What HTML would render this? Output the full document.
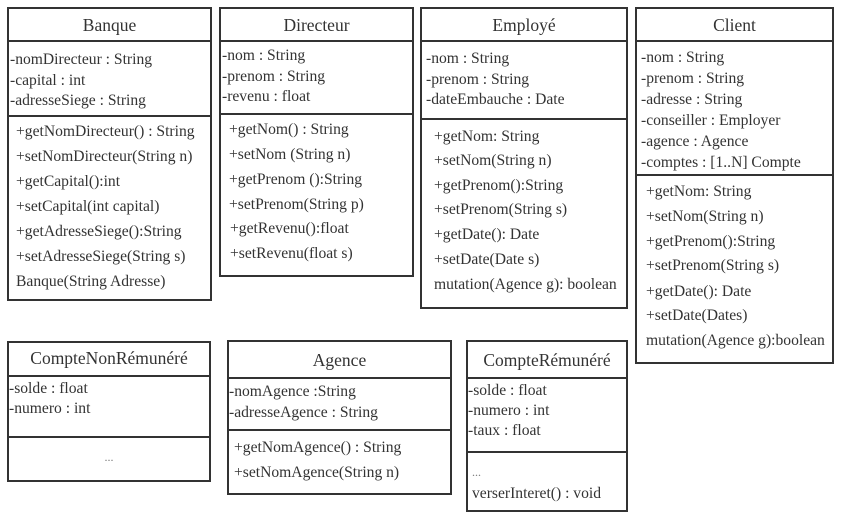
<!DOCTYPE html>
<html><head><meta charset="utf-8"><style>
body{margin:0;background:#fff;width:846px;height:522px;position:relative;overflow:hidden;font-family:"Liberation Serif",serif;color:#333}
.b{position:absolute;border:2px solid #333;box-sizing:border-box}
.l{position:absolute;height:2px;background:#333}
.t{position:absolute;font-size:15.6px;line-height:20px;white-space:nowrap}
.h{position:absolute;font-size:17.5px;line-height:22px;white-space:nowrap;text-align:center}
</style></head><body>

<!-- Banque -->
<div class="b" style="left:7px;top:7px;width:205px;height:294px"></div>
<div class="l" style="left:7px;top:40px;width:205px"></div>
<div class="l" style="left:7px;top:115px;width:205px"></div>
<div class="h" style="left:7px;top:14px;width:205px">Banque</div>
<div class="t" style="left:10px;top:50px">-nomDirecteur : String</div>
<div class="t" style="left:10px;top:71px">-capital : int</div>
<div class="t" style="left:10px;top:91px">-adresseSiege : String</div>
<div class="t" style="left:16px;top:122px">+getNomDirecteur() : String</div>
<div class="t" style="left:16px;top:147px">+setNomDirecteur(String n)</div>
<div class="t" style="left:16px;top:172px">+getCapital():int</div>
<div class="t" style="left:16px;top:197px">+setCapital(int capital)</div>
<div class="t" style="left:16px;top:222px">+getAdresseSiege():String</div>
<div class="t" style="left:16px;top:247px">+setAdresseSiege(String s)</div>
<div class="t" style="left:16px;top:272px">Banque(String Adresse)</div>

<!-- Directeur -->
<div class="b" style="left:219px;top:7px;width:195px;height:270px"></div>
<div class="l" style="left:219px;top:40px;width:195px"></div>
<div class="l" style="left:219px;top:113px;width:195px"></div>
<div class="h" style="left:219px;top:14px;width:195px">Directeur</div>
<div class="t" style="left:222px;top:46px">-nom : String</div>
<div class="t" style="left:222px;top:67px">-prenom : String</div>
<div class="t" style="left:222px;top:87px">-revenu : float</div>
<div class="t" style="left:229px;top:120px">+getNom() : String</div>
<div class="t" style="left:229px;top:145px">+setNom (String n)</div>
<div class="t" style="left:229px;top:170px">+getPrenom ():String</div>
<div class="t" style="left:229px;top:195px">+setPrenom(String p)</div>
<div class="t" style="left:230px;top:219px">+getRevenu():float</div>
<div class="t" style="left:230px;top:244px">+setRevenu(float s)</div>

<!-- Employé -->
<div class="b" style="left:420px;top:7px;width:208px;height:302px"></div>
<div class="l" style="left:420px;top:40px;width:208px"></div>
<div class="l" style="left:420px;top:118px;width:208px"></div>
<div class="h" style="left:420px;top:14px;width:208px">Employé</div>
<div class="t" style="left:426px;top:49px">-nom : String</div>
<div class="t" style="left:426px;top:70px">-prenom : String</div>
<div class="t" style="left:426px;top:90px">-dateEmbauche : Date</div>
<div class="t" style="left:434px;top:127px">+getNom: String</div>
<div class="t" style="left:434px;top:151px">+setNom(String n)</div>
<div class="t" style="left:434px;top:176px">+getPrenom():String</div>
<div class="t" style="left:434px;top:200px">+setPrenom(String s)</div>
<div class="t" style="left:434px;top:225px">+getDate(): Date</div>
<div class="t" style="left:434px;top:250px">+setDate(Date s)</div>
<div class="t" style="left:434px;top:275px">mutation(Agence g): boolean</div>

<!-- Client -->
<div class="b" style="left:635px;top:7px;width:199px;height:357px"></div>
<div class="l" style="left:635px;top:40px;width:199px"></div>
<div class="l" style="left:635px;top:174px;width:199px"></div>
<div class="h" style="left:635px;top:14px;width:199px">Client</div>
<div class="t" style="left:641px;top:48px">-nom : String</div>
<div class="t" style="left:641px;top:69px">-prenom : String</div>
<div class="t" style="left:641px;top:90px">-adresse : String</div>
<div class="t" style="left:641px;top:111px">-conseiller : Employer</div>
<div class="t" style="left:641px;top:132px">-agence : Agence</div>
<div class="t" style="left:641px;top:153px">-comptes : [1..N] Compte</div>
<div class="t" style="left:646px;top:182px">+getNom: String</div>
<div class="t" style="left:646px;top:207px">+setNom(String n)</div>
<div class="t" style="left:646px;top:232px">+getPrenom():String</div>
<div class="t" style="left:646px;top:256px">+setPrenom(String s)</div>
<div class="t" style="left:646px;top:282px">+getDate(): Date</div>
<div class="t" style="left:646px;top:306px">+setDate(Dates)</div>
<div class="t" style="left:646px;top:331px">mutation(Agence g):boolean</div>

<!-- CompteNonRémunéré -->
<div class="b" style="left:7px;top:341px;width:204px;height:141px"></div>
<div class="l" style="left:7px;top:375px;width:204px"></div>
<div class="l" style="left:7px;top:436px;width:204px"></div>
<div class="h" style="left:7px;top:347px;width:204px">CompteNonRémunéré</div>
<div class="t" style="left:9px;top:379px">-solde : float</div>
<div class="t" style="left:9px;top:399px">-numero : int</div>
<div class="t" style="left:7px;top:447px;width:204px;text-align:center;font-size:12px;color:#777">...</div>

<!-- Agence -->
<div class="b" style="left:227px;top:340px;width:225px;height:155px"></div>
<div class="l" style="left:227px;top:377px;width:225px"></div>
<div class="l" style="left:227px;top:429px;width:225px"></div>
<div class="h" style="left:227px;top:349px;width:225px">Agence</div>
<div class="t" style="left:229px;top:382px">-nomAgence :String</div>
<div class="t" style="left:229px;top:403px">-adresseAgence : String</div>
<div class="t" style="left:234px;top:438px">+getNomAgence() : String</div>
<div class="t" style="left:234px;top:463px">+setNomAgence(String n)</div>

<!-- CompteRémunéré -->
<div class="b" style="left:466px;top:340px;width:162px;height:172px"></div>
<div class="l" style="left:466px;top:377px;width:162px"></div>
<div class="l" style="left:466px;top:451px;width:162px"></div>
<div class="h" style="left:466px;top:349px;width:162px">CompteRémunéré</div>
<div class="t" style="left:468px;top:381px">-solde : float</div>
<div class="t" style="left:468px;top:401px">-numero : int</div>
<div class="t" style="left:468px;top:421px">-taux : float</div>
<div class="t" style="left:472px;top:462px;font-size:12px;color:#777">...</div>
<div class="t" style="left:472px;top:484px">verserInteret() : void</div>

</body></html>
